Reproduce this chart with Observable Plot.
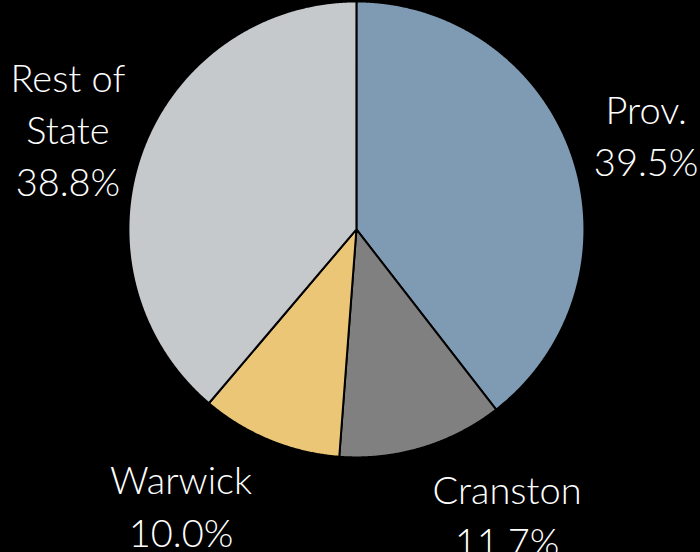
<!DOCTYPE html>
<html>
<head>
<meta charset="utf-8">
<script src="https://cdn.jsdelivr.net/npm/d3@7"></script>
<script src="https://cdn.jsdelivr.net/npm/@observablehq/plot@0.6"></script>
<style>
  html, body { margin: 0; padding: 0; background: #000; }
  #chart svg { display: block; }
</style>
</head>
<body>
<div id="chart"></div>
<script>
const names = ["Prov.", "Cranston", "Warwick", "Rest of State"];
const shares = [39.5, 11.7, 10.0, 38.8];
const colors = ["#7f9ab3", "#808080", "#ecc677", "#c6c9cc"];

const arcs = d3.pie().sort(null).value(d => d)(shares);

// polygon vertices for each slice (unit radius, y up)
const pts = [];
arcs.forEach((a, i) => {
  pts.push({name: names[i], x: 0, y: 0});
  const n = Math.max(2, Math.ceil((a.endAngle - a.startAngle) / 0.005));
  for (let k = 0; k <= n; k++) {
    const t = a.startAngle + (a.endAngle - a.startAngle) * k / n;
    pts.push({name: names[i], x: Math.sin(t), y: Math.cos(t)});
  }
});

const labelR = 1.31;
const labels = arcs.map((a, i) => {
  const m = (a.startAngle + a.endAngle) / 2;
  const s = Math.sin(m);
  return {
    text: names[i] + "\n" + shares[i].toFixed(1) + "%",
    x: labelR * Math.sign(s) * Math.pow(Math.abs(s), 0.55),
    y: 1.3 * Math.cos(m)
  };
});

const chart = Plot.plot({
  width: 700,
  height: 552,
  margin: 0,
  x: {domain: [-1.561, 1.509], axis: null},
  y: {domain: [-1.417, 1.004], axis: null},
  color: {domain: names, range: colors},
  style: {background: "black"},
  marks: [
    Plot.line(pts, {x: "x", y: "y", z: "name", fill: "name", stroke: "black", strokeWidth: 2, curve: "linear-closed"}),
    Plot.text(labels, {x: "x", y: "y", text: "text", fill: "white", fontSize: 38, fontWeight: 300, lineHeight: 1.38, lineWidth: 4.2, fontFamily: "Lato, sans-serif", textAnchor: "middle"})
  ]
});
document.getElementById("chart").append(chart);
</script>
</body>
</html>
